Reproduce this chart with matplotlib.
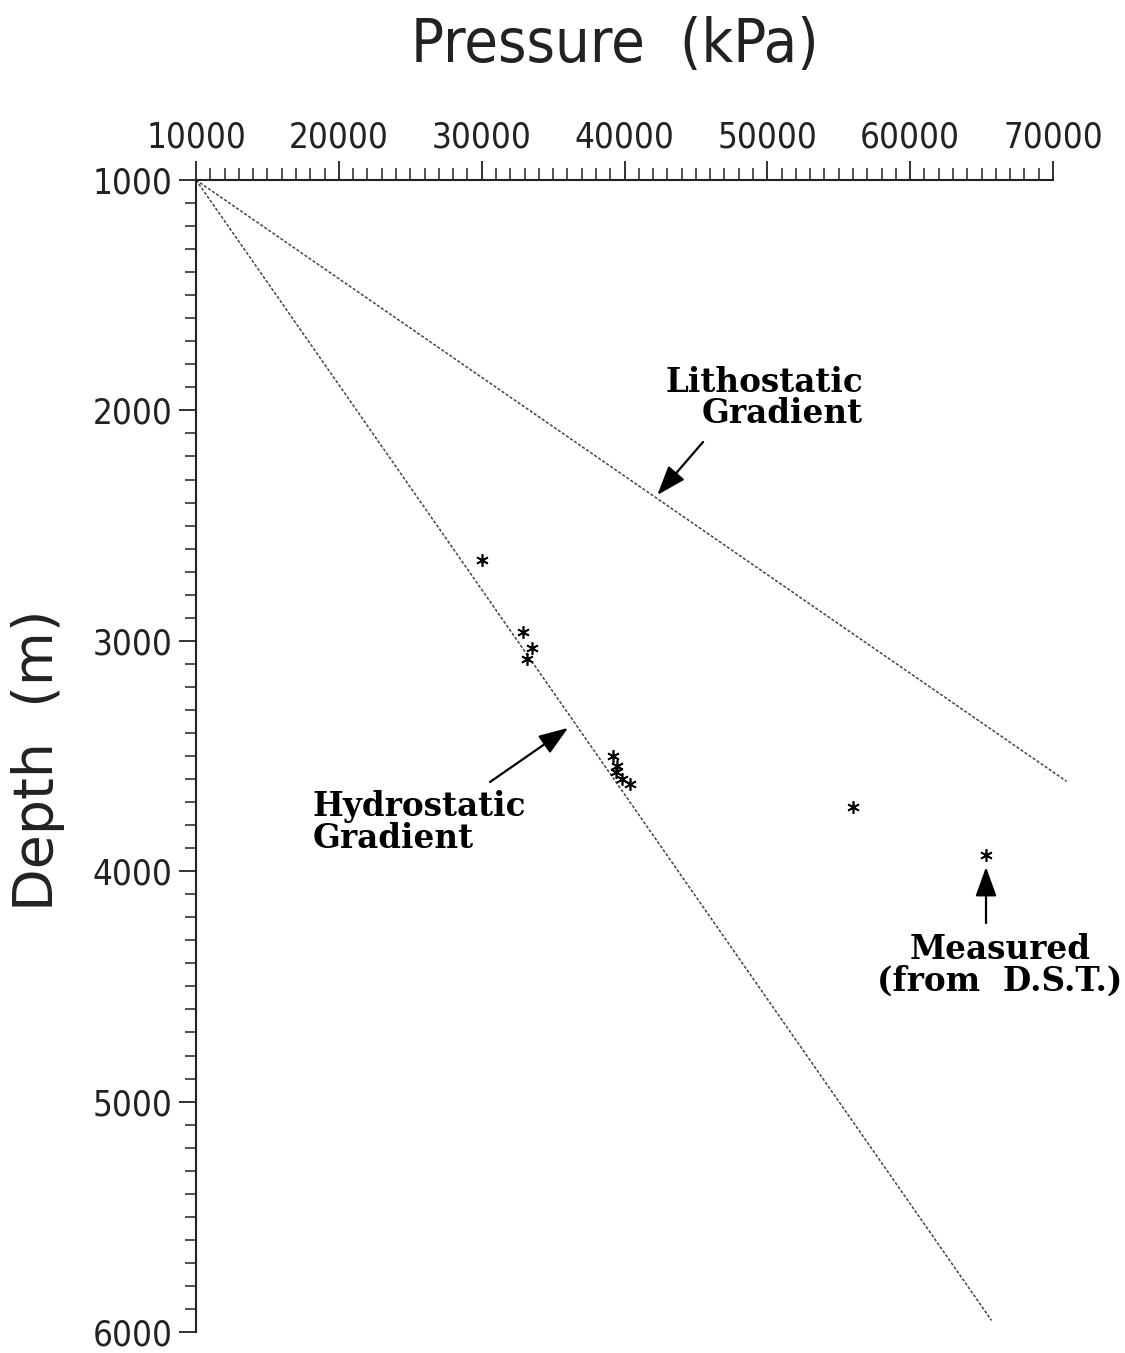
import matplotlib
matplotlib.use('Agg')
import matplotlib.pyplot as plt
from matplotlib.ticker import MultipleLocator

# ---- data ----
pressure_ticks = [10000, 20000, 30000, 40000, 50000, 60000, 70000]
depth_ticks = [1000, 2000, 3000, 4000, 5000, 6000]

dst_pressure = [30000, 32900, 33500, 33200, 39200, 39500, 39400, 39850, 40400, 56000, 65300]
dst_depth = [2650, 2960, 3030, 3080, 3500, 3545, 3570, 3600, 3620, 3720, 3930]

litho_pressure = [10000, 70950]
litho_depth = [1000, 3610]
hydro_pressure = [10000, 65700]
hydro_depth = [1000, 5950]

W, H = 1125, 1353
fig = plt.figure(figsize=(W / 100, H / 100), dpi=100)
fig.patch.set_facecolor('white')
ax = fig.add_axes([196 / W, 1 - 1332 / H, (1053 - 196) / W, (1332 - 180) / H])

tick_font = dict(family=['DejaVu Sans'], stretch='condensed')

ax.plot(litho_pressure, litho_depth, color='#444444', lw=1.1, ls=(0, (2, 1.2)), clip_on=False)
ax.plot(hydro_pressure, hydro_depth, color='#444444', lw=1.1, ls=(0, (2, 1.2)), clip_on=False)
ax.plot(dst_pressure, dst_depth, ls='none', marker=(6, 2, 0), ms=9, mew=1.2, color='black', clip_on=False)

ax.set_xlim(10000, 70000)
ax.set_ylim(6000, 1000)

for s in ['right', 'bottom']:
    ax.spines[s].set_visible(False)
for s in ['left', 'top']:
    ax.spines[s].set_linewidth(1.5)
    ax.spines[s].set_color('#222222')

ax.xaxis.tick_top()
ax.set_xticks(pressure_ticks)
ax.set_xticklabels([str(v) for v in pressure_ticks], fontdict=tick_font, fontsize=25, color='#222222')
ax.xaxis.set_minor_locator(MultipleLocator(1000))
ax.set_yticks(depth_ticks)
ax.set_yticklabels([str(v) for v in depth_ticks], fontdict=tick_font, fontsize=25, color='#222222')
ax.yaxis.set_minor_locator(MultipleLocator(100))
ax.tick_params(axis='x', which='major', direction='out', length=14, width=1.3, pad=4, colors='#222222')
ax.tick_params(axis='x', which='minor', direction='out', length=9, width=1.1, colors='#222222')
ax.tick_params(axis='y', which='major', direction='out', length=12, width=1.3, pad=5, colors='#222222')
ax.tick_params(axis='y', which='minor', direction='out', length=8, width=1.1, colors='#222222')

fig.text(615 / W, 1 - 45 / H, 'Pressure  (kPa)', ha='center', va='center', fontsize=44, color='#222222', **tick_font)
fig.text(38 / W, 1 - 760 / H, 'Depth  (m)', ha='center', va='center', rotation=90, fontsize=40,
         color='#222222', family=['DejaVu Sans'])

ann_font = dict(family=['DejaVu Serif'], weight='bold', fontsize=23.5, color='black')
arrow = dict(arrowstyle='-|>,head_length=1.8,head_width=0.65', mutation_scale=10, lw=1.6, color='black', shrinkA=0, shrinkB=0)

ax.annotate('', xy=(42300, 2367), xytext=(45500, 2137), arrowprops=arrow, annotation_clip=False)
ax.text(56700, 1946, 'Lithostatic\nGradient', ha='right', va='center', multialignment='right', linespacing=0.95, **ann_font)

ax.annotate('', xy=(36050, 3378), xytext=(30580, 3613), arrowprops=arrow, annotation_clip=False)
ax.text(18190, 3790, 'Hydrostatic\nGradient', ha='left', va='center', multialignment='left', linespacing=0.95, **ann_font)

ax.annotate('', xy=(65310, 3982), xytext=(65310, 4225), arrowprops=arrow, annotation_clip=False)
ax.text(66290, 4407, 'Measured\n(from  D.S.T.)', ha='center', va='center', multialignment='center', linespacing=0.95, clip_on=False, **ann_font)

fig.savefig('out.png', dpi=100, facecolor='white')
